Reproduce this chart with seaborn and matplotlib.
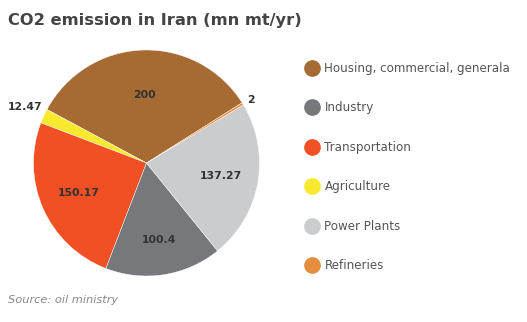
import matplotlib
matplotlib.use("Agg")
import matplotlib.pyplot as plt
import seaborn as sns
import numpy as np
from matplotlib.lines import Line2D

# Data (pie order, counter-clockwise)
categories = ["Housing, commercial, generala", "Agriculture", "Transportation",
              "Industry", "Power Plants", "Refineries"]
values = [200, 12.47, 150.17, 100.4, 137.27, 2]
value_labels = ["200", "12.47", "150.17", "100.4", "137.27", "2"]
colors = ["#A66A33", "#F6E92E", "#F05023", "#77787B", "#CBCCCE", "#E58E3F"]
legend_order = ["Housing, commercial, generala", "Industry", "Transportation",
                "Agriculture", "Power Plants", "Refineries"]

sns.set_theme(style="white")
plt.rcParams['font.family'] = ['DejaVu Sans']

palette = sns.color_palette(colors)
cmap = dict(zip(categories, palette))

fig = plt.figure(figsize=(5.27, 3.22), dpi=100)
fig.patch.set_facecolor("white")

W, H = 527, 322
cx, cy, r = 146.5, 163, 113
ax = fig.add_axes([(cx - r) / W, (H - cy - r) / H, 2 * r / W, 2 * r / H])
wedges, _ = ax.pie(values, colors=palette, startangle=32.2, counterclock=True,
                   wedgeprops=dict(edgecolor="white", linewidth=0.3))
ax.set_xlim(-1, 1)
ax.set_ylim(-1, 1)
ax.set_aspect("equal")
ax.axis("off")

total = sum(values)
for w, v, lab in zip(wedges, values, value_labels):
    frac = v / total
    if frac < 0.05:
        # edge closest to the top
        cand = [w.theta1, w.theta2]
        adeg = min(cand, key=lambda t: abs(((t - 90 + 180) % 360) - 180))
        ang = np.deg2rad(adeg)
        d = 1.05
        ha = "left" if np.cos(ang) > 0 else "right"
    else:
        ang = np.deg2rad((w.theta1 + w.theta2) / 2)
        alpha = np.deg2rad((w.theta2 - w.theta1) / 2)
        d = 1.09 * 2 * np.sin(alpha) / (3 * alpha)
        ha = "center"
    ax.text(d * np.cos(ang), d * np.sin(ang), lab, ha=ha, va="center",
            fontsize=7.8, fontweight="bold", color="#333333")

# Legend
handles = [Line2D([0], [0], marker="o", linestyle="none", markersize=11,
                  markerfacecolor=cmap[c], markeredgecolor=cmap[c]) for c in legend_order]
leg = fig.legend(handles, legend_order, loc="upper left",
                 bbox_to_anchor=(300 / W, 1 - 57 / H), frameon=False,
                 fontsize=8.6, labelspacing=2.22, handletextpad=0.45,
                 handlelength=1.2, borderaxespad=0)
for t in leg.get_texts():
    t.set_color("#555555")

fig.text(8 / W, 1 - 20 / H, "CO2 emission in Iran (mn mt/yr)", ha="left", va="center",
         fontsize=11.7, fontweight="bold", color="#444444")
fig.text(8 / W, 1 - 300 / H, "Source: oil ministry", ha="left", va="center",
         fontsize=8.2, style="italic", color="#888888")

fig.savefig("out.png", dpi=100, facecolor="white")
